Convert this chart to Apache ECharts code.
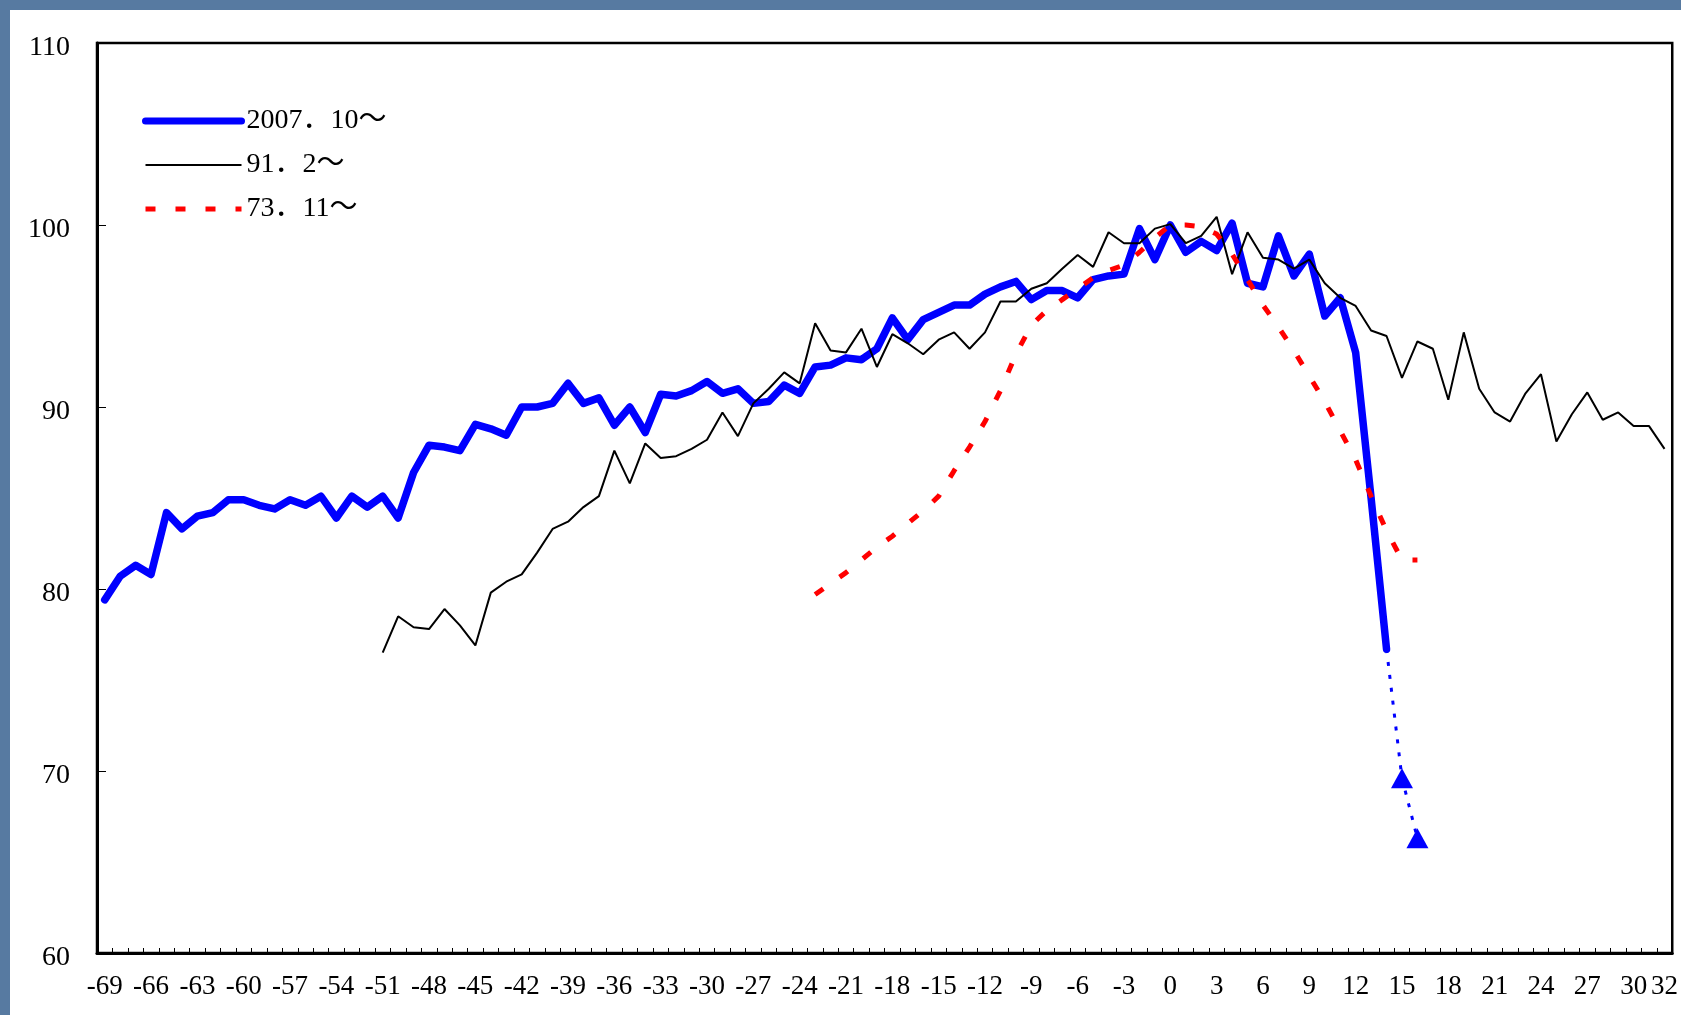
<!DOCTYPE html>
<html><head><meta charset="utf-8">
<script src="https://cdn.jsdelivr.net/npm/echarts@6.0.0/dist/echarts.min.js"></script>
<style>
html,body{margin:0;padding:0;width:1681px;height:1015px;overflow:hidden;background:#577aa1;}
#bg{position:absolute;left:10px;top:10px;right:0;bottom:0;background:#fff;}
#chart{position:absolute;left:0;top:0;width:1681px;height:1015px;}
</style></head><body>
<div id="bg"></div><div id="chart"></div>
<script>
// Months from peak (category axis)
const categories = [-69,-68,-67,-66,-65,-64,-63,-62,-61,-60,-59,-58,-57,-56,-55,-54,-53,-52,-51,-50,
  -49,-48,-47,-46,-45,-44,-43,-42,-41,-40,-39,-38,-37,-36,-35,-34,-33,-32,-31,-30,
  -29,-28,-27,-26,-25,-24,-23,-22,-21,-20,-19,-18,-17,-16,-15,-14,-13,-12,-11,-10,
  -9,-8,-7,-6,-5,-4,-3,-2,-1,0,1,2,3,4,5,6,7,8,9,10,11,12,13,14,15,16,17,18,19,20,
  21,22,23,24,25,26,27,28,29,30,31,32];

const seriesNames = ['2007．10～', '91．2～', '73．11～'];

// 2007.10~ (starts at -69)
const blueStart = -69;
const blueValues = [79.4,80.7,81.3,80.8,84.2,83.3,84.0,84.2,84.9,84.9,
  84.6,84.4,84.9,84.6,85.1,83.9,85.1,84.5,85.1,83.9,
  86.4,87.9,87.8,87.6,89.05,88.8,88.45,90.0,90.0,90.2,
  91.3,90.2,90.5,89.0,90.0,88.6,90.7,90.6,90.9,91.4,
  90.75,91.0,90.2,90.3,91.2,90.75,92.2,92.3,92.7,92.6,
  93.2,94.9,93.7,94.8,95.2,95.6,95.6,96.2,96.6,96.9,
  95.9,96.4,96.4,96.0,97.0,97.2,97.3,99.8,98.1,100.0,
  98.5,99.1,98.6,100.1,96.8,96.6,99.4,97.2,98.4,95.0,
  96.0,93.0,85.0,76.7];

// 2007.10~ projection (dotted, starts at 14)
const projStart = 14;
const projValues = [76.7, 69.6, 66.3];

// 91.2~ (starts at -51)
const blackStart = -51;
const blackValues = [76.5,78.5,77.9,77.8,78.9,78.0,76.9,79.8,80.4,80.8,
  82.0,83.3,83.7,84.5,85.1,87.6,85.8,88.0,87.2,87.3,
  87.7,88.2,89.7,88.4,90.2,91.0,91.9,91.3,94.6,93.1,
  93.0,94.3,92.2,94.0,93.5,92.9,93.7,94.1,93.2,94.1,
  95.8,95.8,96.5,96.8,97.6,98.35,97.7,99.6,99.0,99.0,
  99.8,100.05,99.0,99.4,100.45,97.3,99.6,98.2,98.1,97.6,
  98.1,96.8,96.0,95.55,94.2,93.9,91.6,93.6,93.2,90.4,
  94.1,91.0,89.7,89.2,90.75,91.8,88.1,89.6,90.8,89.3,
  89.7,88.95,88.95,87.7];

// 73.11~ (starts at -23)
const redStart = -23;
const redValues = [79.7,80.3,80.9,81.6,82.3,82.9,83.6,84.3,85.1,86.5,
  87.8,89.2,90.9,92.9,94.5,95.3,95.9,96.5,97.1,97.5,
  97.8,98.5,99.3,100.0,100.0,99.9,99.5,98.4,97.0,95.6,
  94.4,93.1,91.7,90.3,88.7,87.1,85.1,83.2,81.6,81.6];

const yTicks = {min: 60, max: 110, interval: 10};

function pad(start, values) {
  const out = categories.map(() => null);
  const off = categories.indexOf(start);
  values.forEach((v, i) => { out[off + i] = v; });
  return out;
}

const projData = pad(projStart, projValues).map((v, i) =>
  (v !== null && categories[i] === projStart) ? {value: v, symbol: 'none'} : v);

const FONT = "'Liberation Serif', 'Noto Sans CJK JP', serif";
const chart = echarts.init(document.getElementById('chart'), null, {renderer: 'canvas'});
chart.setOption({
  animation: false,
  backgroundColor: 'transparent',
  grid: {left: 97, right: 5, top: 43, bottom: 62, show: true, borderColor: '#000', borderWidth: 2.5, backgroundColor: 'transparent'},
  legend: {
    data: [
      {name: seriesNames[0], itemStyle: {opacity: 0}, lineStyle: {width: 7, color: '#0000ff', type: 'solid'}},
      {name: seriesNames[1], itemStyle: {opacity: 0}, lineStyle: {width: 2, color: '#000', type: 'solid'}},
      {name: seriesNames[2], itemStyle: {opacity: 0}, lineStyle: {width: 5, color: '#ff0000', type: [10, 20]}}
    ],
    orient: 'vertical',
    left: 142, top: 106, padding: 0,
    itemWidth: 96, itemHeight: 14, itemGap: 14,
    selectedMode: false,
    textStyle: {fontFamily: FONT, fontSize: 28, color: '#000', lineHeight: 30}
  },
  xAxis: {
    type: 'category',
    data: categories.map(String),
    boundaryGap: true,
    axisLine: {lineStyle: {color: '#000', width: 3}},
    axisTick: {show: true, inside: true, length: 5, interval: 0, lineStyle: {color: '#000', width: 1}},
    axisLabel: {
      interval: (idx, val) => idx % 3 === 0 || val === '32',
      color: '#000', fontFamily: FONT, fontSize: 27, margin: 20
    },
    splitLine: {show: false}
  },
  yAxis: {
    type: 'value',
    min: yTicks.min, max: yTicks.max, interval: yTicks.interval,
    axisLine: {show: true, lineStyle: {color: '#000', width: 3}},
    axisTick: {show: true, inside: true, length: 9, lineStyle: {color: '#000', width: 1}},
    axisLabel: {
      color: '#000', fontFamily: FONT, fontSize: 28, margin: 27,
      formatter: '{a|{value}}',
      rich: {a: {fontFamily: FONT, fontSize: 28, color: '#000', padding: [9, 0, 0, 0]}}
    },
    splitLine: {show: false}
  },
  series: [
    {name: seriesNames[0], type: 'line', data: pad(blueStart, blueValues), symbol: 'none',
     lineStyle: {color: '#0000ff', width: 7.5, cap: 'round', join: 'round'}, itemStyle: {color: '#0000ff'}, z: 2},
    {name: 'proj', type: 'line', data: projData, symbol: 'triangle', symbolSize: [22, 20], showAllSymbol: true,
     lineStyle: {color: '#0000ff', width: 3, type: [4, 9]}, itemStyle: {color: '#0000ff'}, z: 2},
    {name: seriesNames[1], type: 'line', data: pad(blackStart, blackValues), symbol: 'none',
     lineStyle: {color: '#000', width: 2}, itemStyle: {color: '#000'}, z: 3},
    {name: seriesNames[2], type: 'line', data: pad(redStart, redValues), symbol: 'none',
     lineStyle: {color: '#ff0000', width: 5, type: [10, 20]}, itemStyle: {color: '#ff0000'}, z: 4}
  ]
});
</script>
</body></html>
